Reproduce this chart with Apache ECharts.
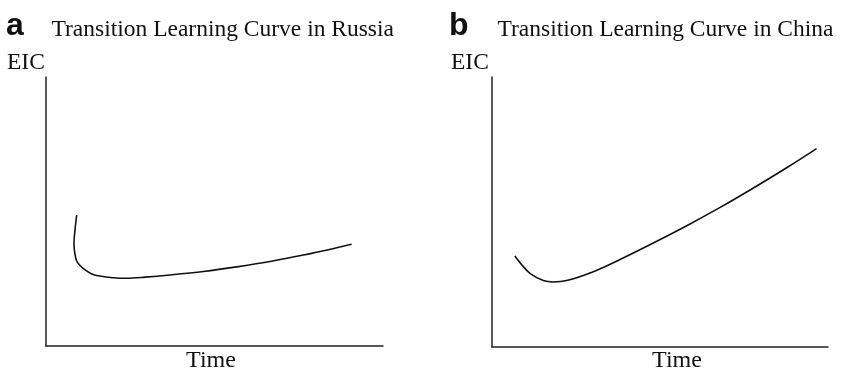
<!DOCTYPE html>
<html>
<head>
<meta charset="utf-8">
<script src="https://cdn.jsdelivr.net/npm/echarts@6/dist/echarts.min.js"></script>
<style>
html,body{margin:0;padding:0;background:#fff;}
#chart{width:844px;height:371px;}
</style>
</head>
<body>
<div id="chart"></div>
<script>
// Panel a: Russia (time, EIC in arbitrary units 0-100)
var russiaTime = [9.1, 8.6, 8.3, 8.5, 9.1, 10.1, 11.6, 13.6, 16.0, 19.9, 23.9, 29.4, 36.8, 46.7, 56.6, 66.5, 76.4, 86.3, 90.7];
var russiaEIC  = [48.7, 43.1, 38.2, 34.9, 31.6, 29.9, 28.3, 26.8, 26.0, 25.4, 25.2, 25.6, 26.4, 27.7, 29.4, 31.4, 33.8, 36.5, 37.8];
// Panel b: China
var chinaTime = [6.8, 8.9, 11.3, 15.3, 18.2, 22.2, 30.15, 38.1, 48.0, 57.95, 67.9, 77.8, 87.7, 96.6];
var chinaEIC  = [33.7, 30.4, 27.3, 24.6, 24.1, 24.6, 27.9, 32.4, 38.5, 44.9, 51.7, 58.9, 66.4, 73.5];

var panelLetters = ['a', 'b'];
var panelTitles = ['Transition Learning Curve in Russia', 'Transition Learning Curve in China'];
var yName = 'EIC';
var xName = 'Time';

function pairs(xs, ys) { return xs.map(function (x, i) { return [x, ys[i]]; }); }

var chart = echarts.init(document.getElementById('chart'), null, {renderer: 'canvas'});
var serif = '"Liberation Serif", "Times New Roman", serif';
var sans = '"Liberation Sans", Arial, sans-serif';
var axisCommon = {
  type: 'value', min: 0, max: 100,
  axisLine: {show: true, onZero: false, lineStyle: {color: '#222', width: 1.5}},
  axisTick: {show: false}, axisLabel: {show: false}, splitLine: {show: false}
};
function txt(x, y, s, font, size, weight, align) {
  return {type: 'text', x: x, y: y, style: {text: s, fontFamily: font, fontSize: size, fontWeight: weight || 'normal', fill: '#111', align: align || 'left', verticalAlign: 'middle'}};
}
var option = {
  backgroundColor: '#fff',
  animation: false,
  grid: [
    {left: 46, top: 77, width: 337, height: 269},
    {left: 492, top: 77, width: 336, height: 270}
  ],
  xAxis: [
    Object.assign({gridIndex: 0}, axisCommon),
    Object.assign({gridIndex: 1}, axisCommon)
  ],
  yAxis: [
    Object.assign({gridIndex: 0}, axisCommon),
    Object.assign({gridIndex: 1}, axisCommon)
  ],
  series: [
    {type: 'line', xAxisIndex: 0, yAxisIndex: 0, data: pairs(russiaTime, russiaEIC), smooth: 0.35, showSymbol: false, lineStyle: {color: '#111', width: 1.6}},
    {type: 'line', xAxisIndex: 1, yAxisIndex: 1, data: pairs(chinaTime, chinaEIC), smooth: 0.35, showSymbol: false, lineStyle: {color: '#111', width: 1.6}}
  ],
  graphic: [
    txt(6, 26.5, panelLetters[0], sans, 32, 'bold'),
    txt(51.5, 29.5, panelTitles[0], serif, 23.5),
    txt(7, 63, yName, serif, 23.5),
    txt(211, 361, xName, serif, 24, 'normal', 'center'),
    txt(449, 26.5, panelLetters[1], sans, 32, 'bold'),
    txt(497.5, 29.5, panelTitles[1], serif, 23.5),
    txt(451, 63, yName, serif, 23.5),
    txt(677, 361, xName, serif, 24, 'normal', 'center')
  ]
};
chart.setOption(option);
</script>
</body>
</html>
